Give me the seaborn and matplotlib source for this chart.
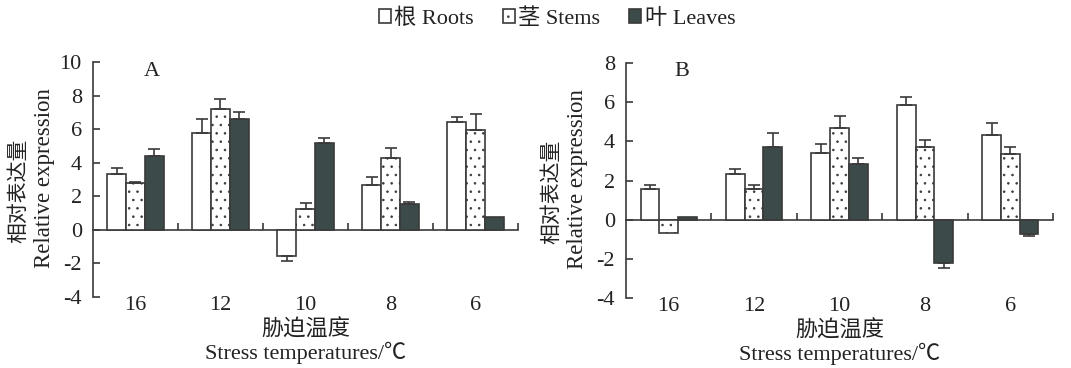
import numpy as np
import pandas as pd
import matplotlib
matplotlib.use("Agg")
import matplotlib.pyplot as plt
import seaborn as sns

# categories
temps = ["16", "12", "10", "8", "6"]
tissues = ["根 Roots", "茎 Stems", "叶 Leaves"]

# panel A values and error bars
a_roots = [3.3, 5.8, -1.55, 2.7, 6.4]
a_roots_err = [0.4, 0.8, 0.28, 0.44, 0.33]
a_stems = [2.8, 7.2, 1.25, 4.3, 5.95]
a_stems_err = [0.05, 0.6, 0.33, 0.6, 0.93]
a_leaves = [4.4, 6.6, 5.2, 1.55, 0.77]
a_leaves_err = [0.4, 0.45, 0.26, 0.14, 0.0]

# panel B values and error bars
b_roots = [1.55, 2.35, 3.42, 5.85, 4.3]
b_roots_err = [0.2, 0.22, 0.44, 0.4, 0.65]
b_stems = [-0.68, 1.55, 4.68, 3.73, 3.36]
b_stems_err = [0.0, 0.22, 0.63, 0.35, 0.34]
b_leaves = [0.15, 3.73, 2.85, -2.2, -0.73]
b_leaves_err = [0.0, 0.71, 0.29, 0.27, 0.1]

a_yticks = [-4, -2, 0, 2, 4, 6, 8, 10]
b_yticks = [-4, -2, 0, 2, 4, 6, 8]

sns.set_style("ticks")
plt.rcParams["font.family"] = ["Liberation Serif", "Noto Sans CJK SC", "DejaVu Sans"]
plt.rcParams["hatch.linewidth"] = 0.6

edge = "#3a3a3a"
txt = "#222222"
colors = ["white", "white", "#3c4a4a"]
fs = 16


def draw_panel(ax, vals, errs, yticks, letter, lx, ly):
    df = pd.DataFrame({
        "temp": temps * 3,
        "tissue": np.repeat(tissues, len(temps)),
        "value": np.concatenate(vals),
    })
    sns.barplot(data=df, x="temp", y="value", hue="tissue", order=temps,
                hue_order=tissues, palette=colors, saturation=1, width=0.66,
                edgecolor=edge, linewidth=1.2, errorbar=None, legend=False, ax=ax)
    for bar in ax.containers[1]:
        bar.set_hatch("..")

    # one sided error bars (up for positive bars, down for negative ones)
    for cont, v, e in zip(ax.containers, vals, errs):
        xs = np.array([b.get_x() + b.get_width() / 2 for b in cont])
        v = np.array(v)
        e = np.array(e)
        keep = e > 0
        lo = np.where(v < 0, e, 0)[keep]
        hi = np.where(v >= 0, e, 0)[keep]
        ax.errorbar(xs[keep], v[keep], yerr=[lo, hi], fmt="none", ecolor=edge,
                    elinewidth=1.2, capsize=4, capthick=1.2, zorder=3)

    ax.set_xlim(-0.5, len(temps) - 0.5)
    ax.set_ylim(yticks[0], yticks[-1])
    ax.set_yticks(yticks, labels=[str(t) for t in yticks])
    ax.tick_params(axis="y", direction="in", length=5, width=1.2, pad=8,
                   labelsize=fs, color=edge, labelcolor=txt)
    ax.tick_params(axis="x", length=0, pad=-1, labelsize=fs, labelcolor=txt)
    for s in ["top", "right", "bottom"]:
        ax.spines[s].set_visible(False)
    ax.spines["left"].set_color(edge)
    ax.spines["left"].set_linewidth(1.2)

    # zero line with little ticks between groups
    sec = ax.secondary_xaxis(-yticks[0] / (yticks[-1] - yticks[0]))
    sec.set_xticks(np.arange(0.5, len(temps)), labels=[])
    sec.tick_params(direction="in", length=5, width=1.2, color=edge)
    sec.spines["bottom"].set_color(edge)
    sec.spines["bottom"].set_linewidth(1.2)

    ax.set_xlabel("")
    ax.set_ylabel("")
    # axis titles, chinese line over english line
    ax.text(0.5, -0.14, "胁迫温度", transform=ax.transAxes, fontsize=fs,
            ha="center", va="center", color=txt)
    ax.text(0.5, -0.238, "Stress temperatures/℃", transform=ax.transAxes,
            fontsize=fs, ha="center", va="center", color=txt)
    ax.text(-0.172, 0.45, "相对表达量", transform=ax.transAxes, fontsize=15,
            rotation=90, ha="center", va="center", color=txt)
    ax.text(-0.113, 0.505, "Relative expression", transform=ax.transAxes,
            fontsize=16.5, rotation=90, ha="center", va="center", color=txt)
    ax.text(lx, ly, letter, transform=ax.transAxes, fontsize=fs, ha="center",
            va="baseline", color=txt)


fig = plt.figure(figsize=(10.71, 3.68), dpi=100)
ax1 = fig.add_axes([0.0868, 0.1929, 0.3969, 0.6386])
ax2 = fig.add_axes([0.5845, 0.1902, 0.3987, 0.6386])

draw_panel(ax1, [a_roots, a_stems, a_leaves], [a_roots_err, a_stems_err, a_leaves_err],
           a_yticks, "A", 0.139, 0.94)
draw_panel(ax2, [b_roots, b_stems, b_leaves], [b_roots_err, b_stems_err, b_leaves_err],
           b_yticks, "B", 0.131, 0.945)

handles = [cont[0] for cont in ax1.containers[:3]]
fig.legend(handles, tissues, loc="center", bbox_to_anchor=(0.52, 0.95), ncol=3,
           frameon=False, fontsize=fs, handlelength=0.55, handleheight=0.55,
           handletextpad=0.15, columnspacing=1.3, labelcolor=txt)

fig.savefig("out.png", dpi=100)
